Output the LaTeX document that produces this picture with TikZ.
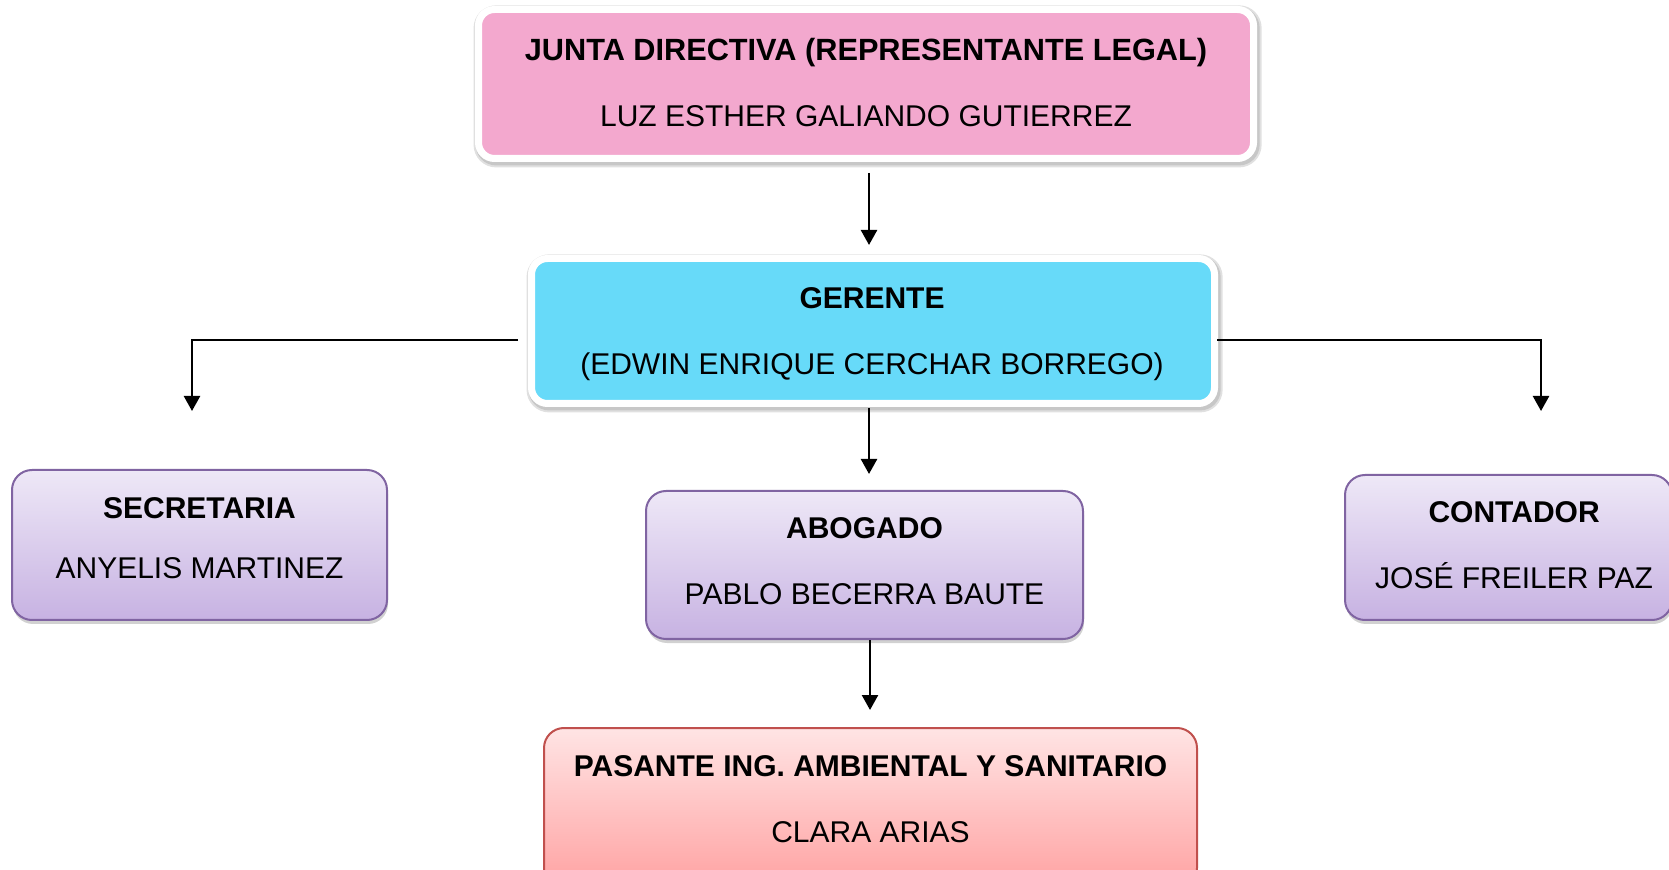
\documentclass[tikz,border=0pt]{standalone}
\usepackage{fontspec}
\setmainfont{Liberation Sans}
\usetikzlibrary{arrows.meta,shadows}
\definecolor{pinkfill}{HTML}{F3A8CE}
\definecolor{cyanfill}{HTML}{67DAF9}
\definecolor{lavtop}{HTML}{EEE8F7}
\definecolor{lavbot}{HTML}{C7B2E2}
\definecolor{lavdraw}{HTML}{8064A2}
\definecolor{redtop}{HTML}{FFE4E4}
\definecolor{redbot}{HTML}{FFA2A2}
\definecolor{reddraw}{HTML}{C0504D}
\begin{document}
\begin{tikzpicture}[x={(0.5pt,0)},y={(0,-0.5pt)},
  framed/.style={rectangle, rounded corners=8pt, draw=white, line width=3.5pt,
    inner sep=0pt,
    preaction={draw=black!12, line width=6.5pt, transform canvas={shift={(0.8pt,-1.2pt)}}},
    preaction={draw=black!22, line width=4.5pt, transform canvas={shift={(0.8pt,-1.2pt)}}}},
  lavbox/.style={rectangle, rounded corners=10pt, draw=lavdraw, line width=1pt,
    top color=lavtop, bottom color=lavbot, inner sep=0pt,
    drop shadow={shadow xshift=0.5pt, shadow yshift=-2pt, opacity=0.3, fill=black!60}},
  redbox/.style={rectangle, rounded corners=10pt, draw=reddraw, line width=1pt,
    top color=redtop, bottom color=redbot, inner sep=0pt},
  txt/.style={align=center, inner sep=0pt, font=\fontsize{15pt}{33pt}\selectfont},
  arr/.style={line width=1.2pt, -{Triangle[length=7.5pt,width=8pt]}}]
\useasboundingbox (0,0) rectangle (1669,870);

\node[framed, fill=pinkfill, minimum width=387.5pt, minimum height=74.5pt]
  (junta) at (866,84) {};
\node[txt] (juntat) at ([yshift=0.5pt]junta.center)
  {{\fontsize{15.35pt}{33pt}\selectfont\textbf{JUNTA DIRECTIVA (REPRESENTANTE LEGAL)}}\\LUZ ESTHER GALIANDO GUTIERREZ};

\node[framed, fill=cyanfill, minimum width=341.5pt, minimum height=72.5pt]
  (gerente) at (873,331) {};
\node[txt] (gerentet) at ([xshift=-0.5pt,yshift=-1.6pt]gerente.center)
  {\textbf{GERENTE}\\(EDWIN ENRIQUE CERCHAR BORREGO)};

\node[lavbox, minimum width=187.5pt, minimum height=75pt]
  (secretaria) at (199.5,545) {};
\node[txt, font=\fontsize{15pt}{30pt}\selectfont] (secretariat) at ([yshift=3.5pt]secretaria.center)
  {\textbf{SECRETARIA}\\ANYELIS MARTINEZ};

\node[lavbox, minimum width=218.5pt, minimum height=74pt]
  (abogado) at (864.5,565) {};
\node[txt] (abogadot) at ([yshift=2.1pt]abogado.center)
  {\textbf{ABOGADO}\\PABLO BECERRA BAUTE};

\node[lavbox, minimum width=163.5pt, minimum height=72.5pt]
  (contador) at (1508.5,547.5) {};
\node[txt] (contadort) at ([xshift=2.8pt,yshift=1pt]contador.center)
  {\textbf{CONTADOR}\\JOSÉ FREILER PAZ};

\node[redbox, minimum width=326.5pt, minimum height=80pt]
  (pasante) at (870.5,808) {};
\node[txt] (pasantet) at ([yshift=4.2pt]pasante.center)
  {\textbf{PASANTE ING. AMBIENTAL Y SANITARIO}\\CLARA ARIAS};

\coordinate (sa) at (192,411);
\coordinate (ca) at (1541,411);

\draw[arr] ([xshift=1.5pt,yshift=-5.5pt]junta.south) -- ++(0,72);
\draw[arr] ([xshift=-5pt,yshift=-4.5pt]gerente.west) -| (sa);
\draw[arr] ([xshift=-0.5pt,yshift=-4.5pt]gerente.east) -| (ca);
\draw[arr] ([xshift=-2pt,yshift=-0.5pt]gerente.south) -- ++(0,66);
\draw[arr] ([xshift=2.75pt]abogado.south) -- ++(0,70);
\end{tikzpicture}
\end{document}
